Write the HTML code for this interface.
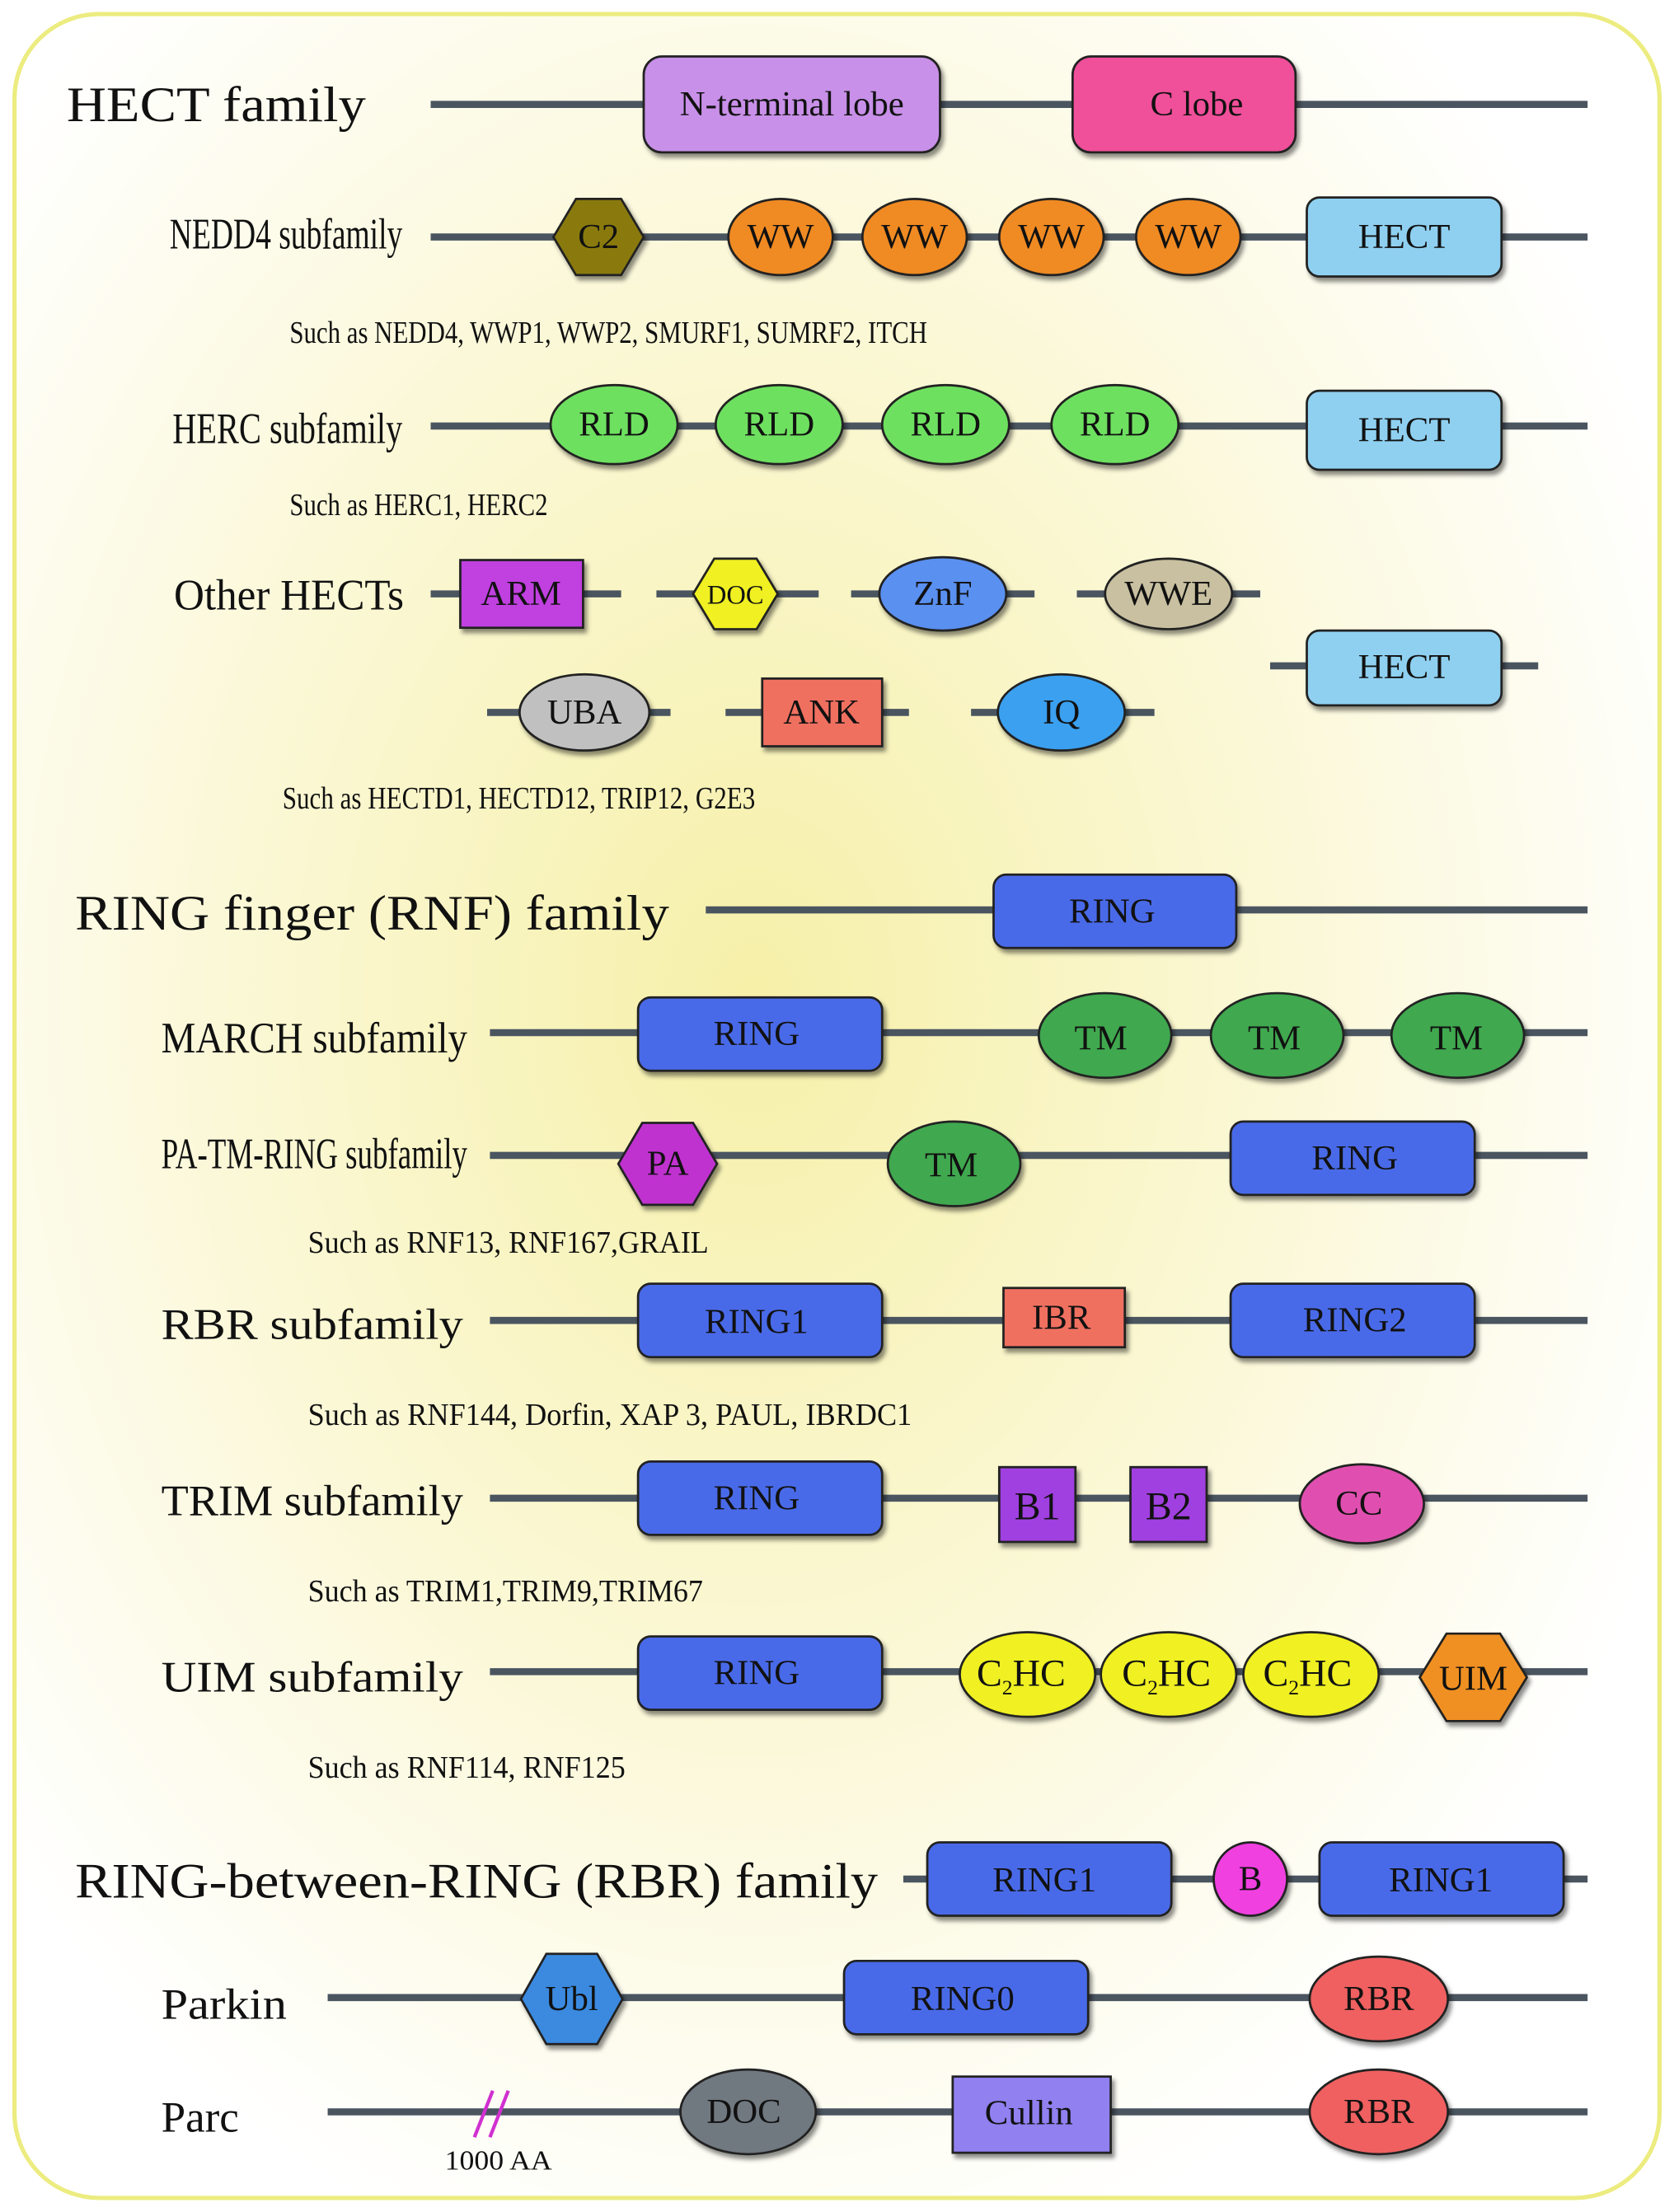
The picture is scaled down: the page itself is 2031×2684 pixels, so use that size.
<!DOCTYPE html>
<html><head><meta charset="utf-8"><style>
html,body{margin:0;padding:0;background:#fff}
svg{display:block}
text{font-family:"Liberation Serif",serif;fill:#111}
.t{font-size:35px}
.l{font-size:31px}
.s{font-size:22px}
.d{font-size:25px;text-anchor:middle;dominant-baseline:central}
.ln{stroke:#4a5560;stroke-width:5}
.sh{stroke:#222;stroke-width:1.6;filter:url(#ds)}
</style></head><body>
<svg width="2031" height="2684" viewBox="0 0 1186 1568" xmlns="http://www.w3.org/2000/svg">
<defs>
<radialGradient id="bg" cx="0.45" cy="0.45" r="0.6">
<stop offset="0" stop-color="#f6f0a8"/><stop offset="0.55" stop-color="#fbf8d8"/><stop offset="1" stop-color="#ffffff"/>
</radialGradient>
<filter id="ds" x="-20%" y="-20%" width="150%" height="160%"><feDropShadow dx="2" dy="3" stdDeviation="1.5" flood-color="#000" flood-opacity="0.45"/></filter>
</defs>
<rect x="10" y="10" width="1166" height="1548" rx="60" fill="url(#bg)" stroke="#ecec80" stroke-width="3"/>

<!-- HECT family -->
<text class="t" x="47" y="86" textLength="212" lengthAdjust="spacingAndGlyphs">HECT family</text>
<line class="ln" x1="305" y1="74" x2="1125" y2="74"/>
<rect class="sh" x="456" y="40" width="210" height="68" rx="13" fill="#c890e8"/>
<text class="d" x="561" y="74">N-terminal lobe</text>
<rect class="sh" x="760" y="40" width="158" height="68" rx="13" fill="#f0509a"/>
<text class="d" x="848" y="74">C lobe</text>

<!-- NEDD4 -->
<text class="l" x="120" y="176" textLength="165" lengthAdjust="spacingAndGlyphs">NEDD4 subfamily</text>
<line class="ln" x1="305" y1="168" x2="1125" y2="168"/>
<polygon class="sh" points="392,168 408,141 440,141 456,168 440,195 408,195" fill="#8a7a10"/>
<text class="d" x="424" y="168">C2</text>
<g fill="#f08a20">
<ellipse class="sh" cx="553" cy="168" rx="37" ry="27"/><ellipse class="sh" cx="648" cy="168" rx="37" ry="27"/>
<ellipse class="sh" cx="745" cy="168" rx="37" ry="27"/><ellipse class="sh" cx="842" cy="168" rx="37" ry="27"/></g>
<text class="d" x="553" y="168">WW</text><text class="d" x="648" y="168">WW</text><text class="d" x="745" y="168">WW</text><text class="d" x="842" y="168">WW</text>
<rect class="sh" x="926" y="140" width="138" height="56" rx="9" fill="#8fd0f0"/>
<text class="d" x="995" y="168">HECT</text>
<text class="s" x="205" y="243" textLength="452" lengthAdjust="spacingAndGlyphs">Such as NEDD4, WWP1, WWP2, SMURF1, SUMRF2, ITCH</text>

<!-- HERC -->
<text class="l" x="122" y="314" textLength="163" lengthAdjust="spacingAndGlyphs">HERC subfamily</text>
<line class="ln" x1="305" y1="302" x2="1125" y2="302"/>
<g fill="#6ee060">
<ellipse class="sh" cx="435" cy="301" rx="45" ry="28"/><ellipse class="sh" cx="552" cy="301" rx="45" ry="28"/>
<ellipse class="sh" cx="670" cy="301" rx="45" ry="28"/><ellipse class="sh" cx="790" cy="301" rx="45" ry="28"/></g>
<text class="d" x="435" y="301">RLD</text><text class="d" x="552" y="301">RLD</text><text class="d" x="670" y="301">RLD</text><text class="d" x="790" y="301">RLD</text>
<rect class="sh" x="926" y="277" width="138" height="56" rx="9" fill="#8fd0f0"/>
<text class="d" x="995" y="305">HECT</text>
<text class="s" x="205" y="365" textLength="183" lengthAdjust="spacingAndGlyphs">Such as HERC1, HERC2</text>

<!-- Other HECTs -->
<text class="l" x="123" y="432" textLength="163" lengthAdjust="spacingAndGlyphs">Other HECTs</text>
<line class="ln" x1="305" y1="421" x2="440" y2="421"/>
<line class="ln" x1="465" y1="421" x2="580" y2="421"/>
<line class="ln" x1="603" y1="421" x2="733" y2="421"/>
<line class="ln" x1="763" y1="421" x2="893" y2="421"/>
<line class="ln" x1="900" y1="472" x2="1090" y2="472"/>
<line class="ln" x1="345" y1="505" x2="475" y2="505"/>
<line class="ln" x1="514" y1="505" x2="644" y2="505"/>
<line class="ln" x1="688" y1="505" x2="818" y2="505"/>
<rect class="sh" x="326" y="397" width="87" height="48" fill="#c040e0"/>
<text class="d" x="369" y="421">ARM</text>
<polygon class="sh" points="491,421 506,396 536,396 551,421 536,446 506,446" fill="#f0f020"/>
<text class="d" x="521" y="422" style="font-size:19px">DOC</text>
<ellipse class="sh" cx="668" cy="421" rx="45" ry="26" fill="#5a90f0"/>
<text class="d" x="668" y="421">ZnF</text>
<ellipse class="sh" cx="828" cy="421" rx="45" ry="25" fill="#c8c0a0"/>
<text class="d" x="828" y="421">WWE</text>
<rect class="sh" x="926" y="447" width="138" height="53" rx="9" fill="#8fd0f0"/>
<text class="d" x="995" y="473">HECT</text>
<ellipse class="sh" cx="414" cy="505" rx="46" ry="27" fill="#c0c0c0"/>
<text class="d" x="414" y="505">UBA</text>
<rect class="sh" x="540" y="481" width="85" height="48" fill="#f07060"/>
<text class="d" x="582" y="505">ANK</text>
<ellipse class="sh" cx="752" cy="505" rx="45" ry="27" fill="#3aa0f0"/>
<text class="d" x="752" y="505">IQ</text>
<text class="s" x="200" y="573" textLength="335" lengthAdjust="spacingAndGlyphs">Such as HECTD1, HECTD12, TRIP12, G2E3</text>

<!-- RING finger family -->
<text class="t" x="53" y="659" textLength="421" lengthAdjust="spacingAndGlyphs">RING finger (RNF) family</text>
<line class="ln" x1="500" y1="645" x2="1125" y2="645"/>
<rect class="sh" x="704" y="620" width="172" height="52" rx="9" fill="#4a6ae8"/>
<text class="d" x="788" y="646">RING</text>

<!-- MARCH -->
<text class="l" x="114" y="746" textLength="217" lengthAdjust="spacingAndGlyphs">MARCH subfamily</text>
<line class="ln" x1="347" y1="732" x2="1125" y2="732"/>
<rect class="sh" x="452" y="707" width="173" height="52" rx="9" fill="#4a6ae8"/>
<text class="d" x="536" y="733">RING</text>
<g fill="#40a850">
<ellipse class="sh" cx="783" cy="734" rx="47" ry="30"/><ellipse class="sh" cx="905" cy="734" rx="47" ry="30"/><ellipse class="sh" cx="1033" cy="734" rx="47" ry="30"/></g>
<text class="d" x="780" y="736">TM</text><text class="d" x="903" y="736">TM</text><text class="d" x="1032" y="736">TM</text>

<!-- PA-TM-RING -->
<text class="l" x="114" y="828" textLength="217" lengthAdjust="spacingAndGlyphs">PA-TM-RING subfamily</text>
<line class="ln" x1="347" y1="819" x2="1125" y2="819"/>
<polygon class="sh" points="438,825 455,796 491,796 508,825 491,854 455,854" fill="#c030d0"/>
<text class="d" x="473" y="825">PA</text>
<ellipse class="sh" cx="676" cy="825" rx="47" ry="30" fill="#40a850"/>
<text class="d" x="674" y="826">TM</text>
<rect class="sh" x="872" y="795" width="173" height="52" rx="9" fill="#4a6ae8"/>
<text class="d" x="960" y="821">RING</text>
<text class="s" x="218" y="888" textLength="284" lengthAdjust="spacingAndGlyphs">Such as RNF13, RNF167,GRAIL</text>

<!-- RBR subfamily -->
<text class="l" x="114" y="949" textLength="214" lengthAdjust="spacingAndGlyphs">RBR subfamily</text>
<line class="ln" x1="347" y1="936" x2="1125" y2="936"/>
<rect class="sh" x="452" y="910" width="173" height="52" rx="9" fill="#4a6ae8"/>
<text class="d" x="536" y="937">RING1</text>
<rect class="sh" x="711" y="913" width="86" height="42" fill="#f07060"/>
<text class="d" x="752" y="934">IBR</text>
<rect class="sh" x="872" y="910" width="173" height="52" rx="9" fill="#4a6ae8"/>
<text class="d" x="960" y="936">RING2</text>
<text class="s" x="218" y="1010" textLength="428" lengthAdjust="spacingAndGlyphs">Such as RNF144, Dorfin, XAP 3, PAUL, IBRDC1</text>

<!-- TRIM -->
<text class="l" x="114" y="1074" textLength="214" lengthAdjust="spacingAndGlyphs">TRIM subfamily</text>
<line class="ln" x1="347" y1="1062" x2="1125" y2="1062"/>
<rect class="sh" x="452" y="1036" width="173" height="52" rx="9" fill="#4a6ae8"/>
<text class="d" x="536" y="1062">RING</text>
<rect class="sh" x="708" y="1040" width="54" height="53" fill="#a040e0"/>
<text class="d" x="735" y="1068" style="font-size:28px">B1</text>
<rect class="sh" x="801" y="1040" width="54" height="53" fill="#a040e0"/>
<text class="d" x="828" y="1068" style="font-size:28px">B2</text>
<ellipse class="sh" cx="965" cy="1066" rx="44" ry="28" fill="#e050b0"/>
<text class="d" x="963" y="1066">CC</text>
<text class="s" x="218" y="1135" textLength="280" lengthAdjust="spacingAndGlyphs">Such as TRIM1,TRIM9,TRIM67</text>

<!-- UIM -->
<text class="l" x="114" y="1199" textLength="214" lengthAdjust="spacingAndGlyphs">UIM subfamily</text>
<line class="ln" x1="347" y1="1185" x2="1125" y2="1185"/>
<rect class="sh" x="452" y="1160" width="173" height="52" rx="9" fill="#4a6ae8"/>
<text class="d" x="536" y="1186">RING</text>
<g fill="#f0f020">
<ellipse class="sh" cx="728" cy="1187" rx="48" ry="30"/><ellipse class="sh" cx="828" cy="1187" rx="48" ry="30"/><ellipse class="sh" cx="929" cy="1187" rx="48" ry="30"/></g>
<text x="692" y="1195" style="font-size:27px">C<tspan font-size="15" dy="6">2</tspan><tspan dy="-6">HC</tspan></text>
<text x="795" y="1195" style="font-size:27px">C<tspan font-size="15" dy="6">2</tspan><tspan dy="-6">HC</tspan></text>
<text x="895" y="1195" style="font-size:27px">C<tspan font-size="15" dy="6">2</tspan><tspan dy="-6">HC</tspan></text>
<polygon class="sh" points="1006,1189 1025,1158 1063,1158 1082,1189 1063,1220 1025,1220" fill="#f09020"/>
<text class="d" x="1044" y="1190">UIM</text>
<text class="s" x="218" y="1260" textLength="225" lengthAdjust="spacingAndGlyphs">Such as RNF114, RNF125</text>

<!-- RBR family -->
<text class="t" x="53" y="1345" textLength="569" lengthAdjust="spacingAndGlyphs">RING-between-RING (RBR) family</text>
<line class="ln" x1="640" y1="1332" x2="1125" y2="1332"/>
<rect class="sh" x="657" y="1306" width="173" height="52" rx="9" fill="#4a6ae8"/>
<text class="d" x="740" y="1333">RING1</text>
<circle class="sh" cx="886" cy="1332" r="26" fill="#f040e0"/>
<text class="d" x="886" y="1332">B</text>
<rect class="sh" x="935" y="1306" width="173" height="52" rx="9" fill="#4a6ae8"/>
<text class="d" x="1021" y="1333">RING1</text>

<!-- Parkin -->
<text class="l" x="114" y="1431" textLength="89" lengthAdjust="spacingAndGlyphs">Parkin</text>
<line class="ln" x1="232" y1="1416" x2="1125" y2="1416"/>
<polygon class="sh" points="369,1417 387,1385 423,1385 441,1417 423,1449 387,1449" fill="#3a8ae0"/>
<text class="d" x="405" y="1417">Ubl</text>
<rect class="sh" x="598" y="1390" width="173" height="52" rx="9" fill="#4a6ae8"/>
<text class="d" x="682" y="1417">RING0</text>
<ellipse class="sh" cx="977" cy="1417" rx="49" ry="30" fill="#f06060"/>
<text class="d" x="977" y="1417">RBR</text>

<!-- Parc -->
<text class="l" x="114" y="1511">Parc</text>
<line class="ln" x1="232" y1="1497" x2="1125" y2="1497"/>
<line x1="336" y1="1515" x2="349" y2="1482" stroke="#d030d0" stroke-width="2.5"/>
<line x1="347" y1="1515" x2="360" y2="1482" stroke="#d030d0" stroke-width="2.5"/>
<text x="315" y="1538" style="font-size:20px" textLength="76" lengthAdjust="spacingAndGlyphs">1000 AA</text>
<ellipse class="sh" cx="530" cy="1497" rx="48" ry="30" fill="#707880"/>
<text class="d" x="527" y="1497">DOC</text>
<rect class="sh" x="675" y="1472" width="112" height="54" fill="#9080f0"/>
<text class="d" x="729" y="1498">Cullin</text>
<ellipse class="sh" cx="977" cy="1497" rx="49" ry="30" fill="#f06060"/>
<text class="d" x="977" y="1497">RBR</text>
</svg>
</body></html>
